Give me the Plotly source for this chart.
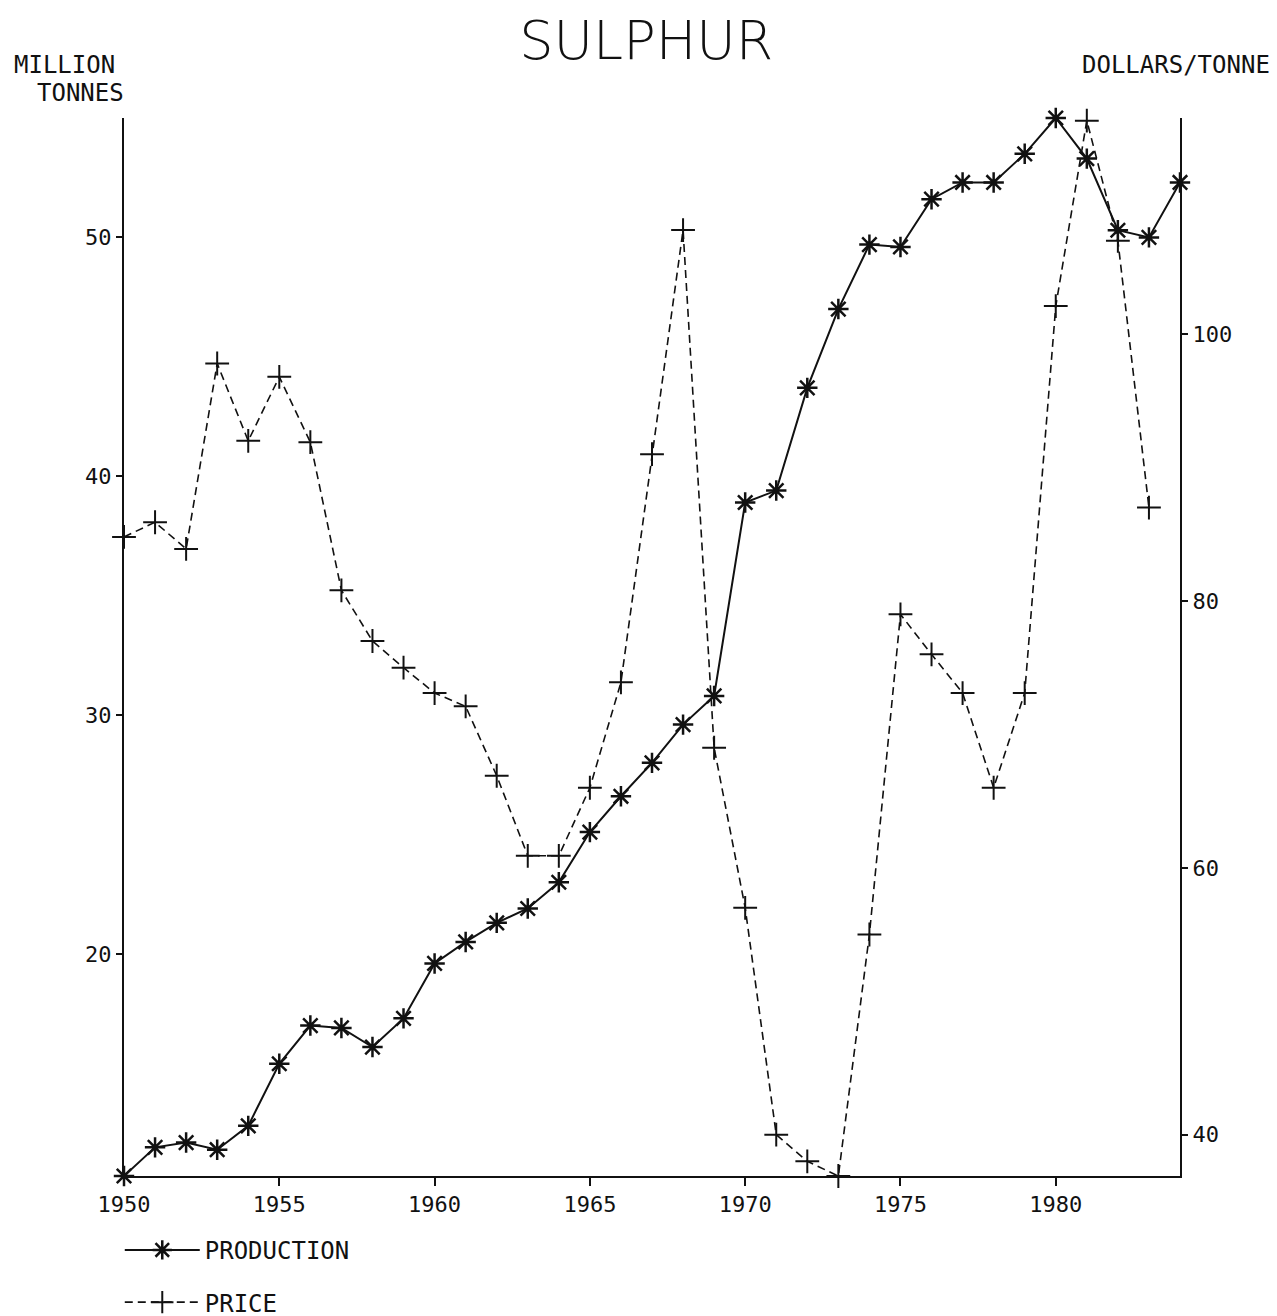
import plotly.graph_objects as go

# sulphur: world production (million tonnes) and price (dollars/tonne), 1950-1984
years = list(range(1950, 1985))
production = [
    10.7, 11.9, 12.1, 11.8, 12.8, 15.4, 17.0, 16.9, 16.1, 17.3,
    19.6, 20.5, 21.3, 21.9, 23.0, 25.1, 26.6, 28.0, 29.6, 30.8,
    38.9, 39.4, 43.7, 47.0, 49.7, 49.6, 51.6, 52.3, 52.3, 53.5,
    55.0, 53.3, 50.3, 50.0, 52.3,
]
price_years = list(range(1950, 1984))
price = [
    84.8, 85.9, 83.9, 97.8, 92.0, 96.8, 91.9, 80.8, 77.0, 75.0,
    73.1, 72.1, 66.9, 60.9, 60.9, 66.0, 73.9, 91.0, 107.8, 69.0,
    57.0, 40.0, 38.0, 36.9, 55.0, 79.0, 76.0, 73.1, 66.0, 73.1,
    102.1, 116.0, 107.0, 87.0,
]
x_ticks = [1950, 1955, 1960, 1965, 1970, 1975, 1980]
left_ticks = [20, 30, 40, 50]
right_ticks = [40, 60, 80, 100]

FONT = "DejaVu Sans Mono"
INK = "#111111"

fig = go.Figure()
fig.add_trace(go.Scatter(
    x=years, y=production, name="PRODUCTION", mode="lines+markers",
    line=dict(color=INK, width=2),
    marker=dict(symbol="asterisk-open", size=17, line=dict(color=INK, width=2.5)),
    cliponaxis=False, legendgroup="a",
))
fig.add_trace(go.Scatter(
    x=price_years, y=price, name="PRICE", mode="lines+markers", yaxis="y2",
    line=dict(color=INK, width=1.6, dash="8px,5px"),
    marker=dict(symbol="cross-thin-open", size=17, line=dict(color=INK, width=2)),
    cliponaxis=False, legendgroup="b",
))

axis_font = dict(family=FONT, size=22, color=INK)
label_font = dict(family=FONT, size=24, color=INK)
# the page adds an 8px body margin, so the figure is drawn 8px narrower;
# the extra height below the window leaves room for the legend
fig.update_layout(
    width=1269, height=1348,
    paper_bgcolor="white", plot_bgcolor="white",
    margin=dict(l=116, r=97, t=110, b=180),
    title=dict(text="SULPHUR", x=0.503, xanchor="center", y=1 - 32 / 1348, yanchor="middle",
               font=dict(family="DejaVu Sans", size=54, color=INK, weight=200)),
    xaxis=dict(range=[1950, 1984], tickvals=x_ticks, ticks="outside", ticklen=8,
               tickwidth=1.5, tickcolor=INK, showline=True, linecolor=INK, linewidth=2,
               showgrid=False, zeroline=False, tickfont=axis_font, automargin=False),
    yaxis=dict(range=[10.7, 55.0], tickvals=left_ticks, ticks="outside", ticklen=6,
               tickwidth=1.5, tickcolor=INK, showline=True, linecolor=INK, linewidth=2,
               showgrid=False, zeroline=False, tickfont=axis_font, automargin=False),
    yaxis2=dict(range=[36.9, 116.2], tickvals=right_ticks, ticks="outside", ticklen=6,
                tickwidth=1.5, tickcolor=INK, showline=True, linecolor=INK, linewidth=2,
                showgrid=False, zeroline=False, tickfont=axis_font, automargin=False,
                overlaying="y", side="right"),
    showlegend=True,
    legend=dict(x=-0.004, xanchor="left", y=-0.049, yanchor="top", orientation="v",
                font=label_font, itemwidth=75,
                tracegroupgap=18, bgcolor="rgba(0,0,0,0)"),
    annotations=[
        dict(text="MILLION", xref="paper", yref="paper", x=-0.106, y=1.050,
             xanchor="left", yanchor="middle", showarrow=False, font=label_font),
        dict(text="TONNES", xref="paper", yref="paper", x=-0.084, y=1.0236,
             xanchor="left", yanchor="middle", showarrow=False, font=label_font),
        dict(text="DOLLARS/TONNE", xref="paper", yref="paper", x=1.087, y=1.050,
             xanchor="right", yanchor="middle", showarrow=False, font=label_font),
    ],
)

fig.write_html("out.html")
